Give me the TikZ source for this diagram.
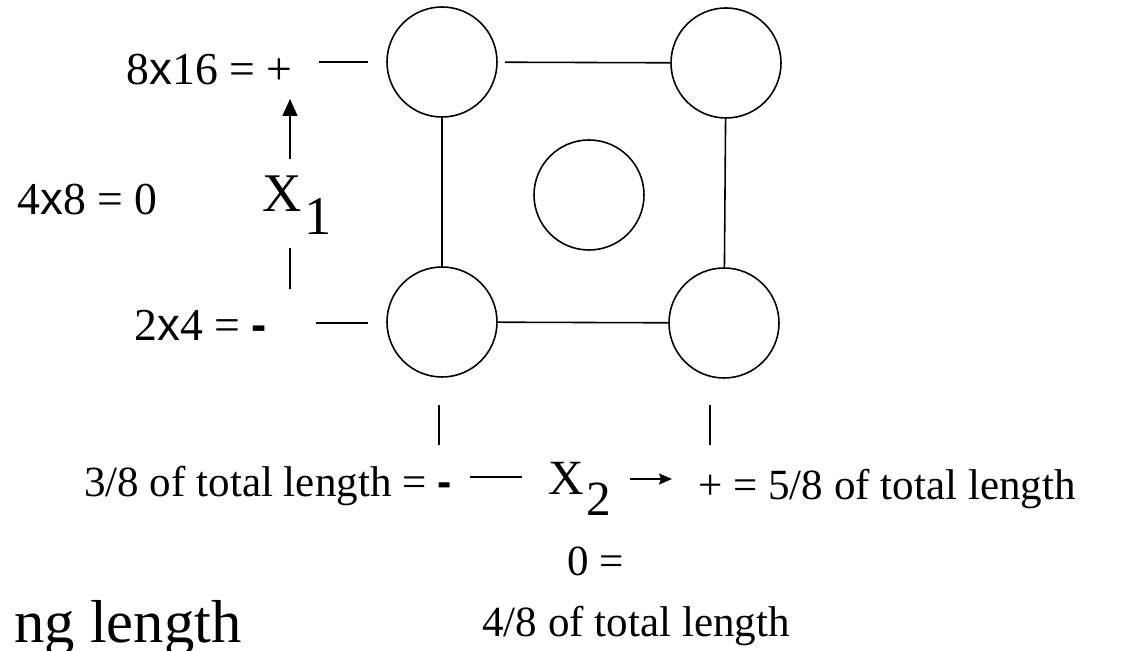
\documentclass[tikz,border=0pt]{standalone}
\usepackage{fontspec}
\setmainfont{Liberation Serif}
\newfontfamily\arialfam{Liberation Sans}
\usepackage{tikz}
\usetikzlibrary{arrows.meta,positioning}
\newcommand{\xsign}{{\arialfam x}}
\newcommand{\lowdash}{{\arialfam\bfseries -}}
\newcommand{\lowsub}[1]{\kern.05em\raisebox{-.42em}{#1}}
\tikzset{lbl/.style={inner sep=0pt,font=\fontsize{24.5pt}{29pt}\selectfont},big/.style={inner sep=0pt,font=\fontsize{31pt}{35pt}\selectfont},tick/.style={line width=.9pt},arr/.style={-{Triangle[length=3.4mm,width=3mm]},line width=.9pt}}

\begin{document}
\begin{tikzpicture}[x=.2mm,y=-.2mm,ball/.style={circle,draw,line width=.9pt,minimum size=2.2cm,inner sep=0pt},lvl/.style={inner sep=0pt,font=\fontsize{26pt}{30pt}\selectfont}]
\useasboundingbox (0,0) rectangle (1140,651);
% the five runs
\node[ball] (tl) at (442,62) {};
\node[ball] (tr) at (726,63) {};
\node[ball] (cp) at (589,195) {};
\node[ball] (bl) at (442,322) {};
\node[ball] (br) at (724,323) {};
\draw[tick,shorten <=4pt] (tl)--(tr);
\draw[tick] (tl)--(bl);
\draw[tick] (tr)--(br);
\draw[tick] (bl)--(br);
% factor x1
\node[lvl,anchor=base east] (hi1) at (293,85) {8\xsign16 = +};
\node[lvl,anchor=base west] (mid1) at (17,215) {4\xsign8 = 0};
\node[lvl,anchor=base west] (lo1) at (134,341) {2\xsign4 = \lowdash};
\node[big,anchor=base west] (x1) at (262,212) {X\lowsub{1}};
\coordinate (hiT) at (319,62); \coordinate (hiE) at (368,62);
\coordinate (loT) at (316,323); \coordinate (loE) at (368,323);
\coordinate (up0) at (290,159); \coordinate (up1) at (290,99);
\coordinate (dn0) at (290,248); \coordinate (dn1) at (290,289);
\draw[tick] (hiT)--(hiE);
\draw[tick] (loT)--(loE);
\draw[arr] (up0)--(up1);
\draw[tick] (dn0)--(dn1);
% factor x2
\node[lbl,anchor=base east] (lo2) at (452,497) {3/8 of total length = \lowdash};
\node[big,anchor=base west,font=\fontsize{28pt}{32pt}\selectfont] (x2) at (548,495) {X\lowsub{2}};
\node[lbl,anchor=base west] (hi2) at (698,500) {+ = 5/8 of total length};
\node[lbl,anchor=base west] (mid2) at (567,576) {0 =};
\node[lbl,anchor=base west] (mid2b) at (482,637) {4/8 of total length};
\node[big,anchor=base east,font=\fontsize{34.5pt}{38pt}\selectfont] (cut) at (242,643) {ng length};
\coordinate (lmT) at (439,405); \coordinate (lmB) at (439,445);
\coordinate (rmT) at (710,405); \coordinate (rmB) at (710,445);
\coordinate (dsA) at (470,477); \coordinate (dsB) at (522,477);
\coordinate (rt0) at (630,479); \coordinate (rt1) at (672,479);
\draw[tick] (lmT)--(lmB);
\draw[tick] (rmT)--(rmB);
\draw[tick] (dsA)--(dsB);
\draw[tick,-{Stealth[length=2.6mm,width=2.2mm,inset=.4mm]}] (rt0)--(rt1);
\end{tikzpicture}
\end{document}
